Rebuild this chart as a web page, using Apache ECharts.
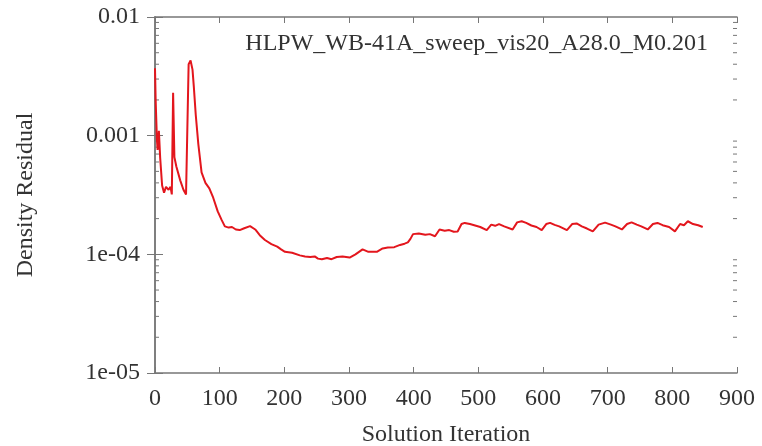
<!DOCTYPE html>
<html>
<head>
<meta charset="utf-8">
<script src="https://cdn.jsdelivr.net/npm/echarts@6/dist/echarts.min.js"></script>
<style>
  html, body { margin: 0; padding: 0; background: #fff; }
  #chart { width: 762px; height: 446px; }
</style>
</head>
<body>
<div id="chart"></div>
<script>
// iterations and density residual
const iterations = [0, 1, 3, 4, 6, 8, 11, 14, 17, 21, 24, 26, 28, 30, 33, 39, 44, 48, 50, 52, 55, 58, 60, 63, 67, 72, 78, 84, 90, 97,
  103, 108, 114, 119, 125, 131, 138, 147, 155, 162, 170, 180, 189, 195, 201, 212, 224, 232, 240, 247, 252, 258, 266, 273, 281, 290,
  301, 310, 321, 330, 343, 352, 360, 370, 379, 386, 391, 395, 399, 408, 418, 425, 433, 440, 448, 455, 462, 468, 474, 479,
  487, 495, 503, 513, 520, 526, 532, 540, 553, 560, 567, 574, 582, 590, 598, 605, 611, 618, 625, 637, 645, 652, 660, 668, 677,
  686, 696, 705, 712, 722, 730, 737, 745, 752, 762, 770, 777, 785, 795, 804, 812, 818, 824, 832, 840, 847];
const residual = [3.7e-3, 2.0e-3, 9.2e-4, 7.6e-4, 1.1e-3, 6.5e-4, 3.8e-4, 3.3e-4, 3.7e-4, 3.5e-4, 3.7e-4, 3.2e-4, 2.3e-3, 6.6e-4, 5.5e-4, 4.2e-4, 3.5e-4, 3.2e-4, 3.3e-4, 4.0e-3, 4.3e-3, 3.6e-3, 2.6e-3, 1.5e-3, 8.5e-4, 4.9e-4, 4.0e-4, 3.6e-4, 3.0e-4, 2.3e-4,
  1.95e-4, 1.72e-4, 1.68e-4, 1.70e-4, 1.62e-4, 1.60e-4, 1.66e-4, 1.73e-4, 1.62e-4, 1.45e-4, 1.32e-4, 1.22e-4, 1.16e-4, 1.10e-4, 1.05e-4, 1.03e-4, 9.8e-5, 9.6e-5, 9.5e-5, 9.6e-5, 9.2e-5, 9.1e-5, 9.3e-5, 9.1e-5, 9.5e-5, 9.6e-5,
  9.4e-5, 1.0e-4, 1.1e-4, 1.05e-4, 1.05e-4, 1.12e-4, 1.14e-4, 1.15e-4, 1.2e-4, 1.23e-4, 1.26e-4, 1.35e-4, 1.48e-4, 1.5e-4, 1.46e-4, 1.48e-4, 1.42e-4, 1.62e-4, 1.58e-4, 1.60e-4, 1.55e-4, 1.56e-4, 1.8e-4, 1.84e-4,
  1.80e-4, 1.75e-4, 1.70e-4, 1.60e-4, 1.78e-4, 1.74e-4, 1.80e-4, 1.72e-4, 1.62e-4, 1.86e-4, 1.90e-4, 1.84e-4, 1.75e-4, 1.70e-4, 1.60e-4, 1.80e-4, 1.84e-4, 1.77e-4, 1.72e-4, 1.60e-4, 1.80e-4, 1.82e-4, 1.72e-4, 1.65e-4, 1.56e-4,
  1.78e-4, 1.85e-4, 1.78e-4, 1.72e-4, 1.62e-4, 1.80e-4, 1.86e-4, 1.78e-4, 1.72e-4, 1.62e-4, 1.80e-4, 1.84e-4, 1.76e-4, 1.70e-4, 1.56e-4, 1.80e-4, 1.76e-4, 1.90e-4, 1.80e-4, 1.76e-4, 1.70e-4];

// tick labels of the log axis
const yTickLabels = { '-2': '0.01', '-3': '0.001', '-4': '1e-04', '-5': '1e-05' };
// minor ticks inside each decade
const minorTicks = [2e-5, 3e-5, 4e-5, 5e-5, 6e-5, 7e-5, 8e-5, 9e-5,
  2e-4, 3e-4, 4e-4, 5e-4, 6e-4, 7e-4, 8e-4, 9e-4,
  2e-3, 3e-3, 4e-3, 5e-3, 6e-3, 7e-3, 8e-3, 9e-3];

const runName = 'HLPW_WB-41A_sweep_vis20_A28.0_M0.201';

const font = 'Liberation Serif';
const textColor = '#333';
const frameColor = '#777';

const chart = echarts.init(document.getElementById('chart'), null, { renderer: 'canvas' });

const option = {
  animation: false,
  backgroundColor: '#fff',
  title: {
    text: runName,
    right: 54,
    top: 32,
    padding: 0,
    textStyle: { fontFamily: font, fontSize: 24, fontWeight: 'normal', color: textColor }
  },
  grid: { left: 155, right: 25, top: 17, bottom: 73, containLabel: false, outerBoundsMode: 'none' },
  xAxis: [
    {
      type: 'value',
      min: 0, max: 900, interval: 100,
      name: 'Solution Iteration',
      nameLocation: 'middle',
      nameGap: 50,
      nameTextStyle: { fontFamily: font, fontSize: 24, color: textColor },
      axisLine: { lineStyle: { color: frameColor, width: 1.5 } },
      axisTick: { inside: true, length: 6, lineStyle: { color: frameColor } },
      axisLabel: { fontFamily: font, fontSize: 24, color: textColor, margin: 14 },
      splitLine: { show: false }
    },
    {
      type: 'value',
      position: 'top',
      min: 0, max: 900, interval: 100,
      axisLine: { lineStyle: { color: frameColor, width: 1.5 } },
      axisTick: { inside: true, length: 6, lineStyle: { color: frameColor } },
      axisLabel: { show: false },
      splitLine: { show: false }
    }
  ],
  yAxis: [
    {
      type: 'log',
      logBase: 10,
      min: 1e-5, max: 1e-2,
      name: 'Density Residual',
      nameLocation: 'middle',
      nameGap: 117,
      nameTextStyle: { fontFamily: font, fontSize: 24, color: textColor },
      axisLine: { show: true, lineStyle: { color: frameColor, width: 1.5 } },
      axisTick: { inside: true, length: 8, lineStyle: { color: frameColor } },
      axisLabel: {
        fontFamily: font, fontSize: 24, color: textColor, margin: 15,
        formatter: v => yTickLabels[String(Math.round(Math.log10(v)))] || ''
      },
      splitLine: { show: false }
    },
    {
      type: 'log',
      logBase: 10,
      min: 1e-5, max: 1e-2,
      position: 'right',
      axisLine: { show: true, lineStyle: { color: frameColor, width: 1.5 } },
      axisTick: { inside: true, length: 8, lineStyle: { color: frameColor } },
      axisLabel: { show: false },
      splitLine: { show: false }
    }
  ],
  series: [
    {
      type: 'line',
      data: iterations.map((it, i) => [it, residual[i]]),
      showSymbol: false,
      lineStyle: { color: '#e3161d', width: 2 },
      z: 3
    },
    {
      // log-spaced minor ticks on left and right frame
      type: 'custom',
      silent: true,
      data: minorTicks.map(v => [0, v]),
      renderItem: (params, api) => {
        const v = api.value(1);
        const l = api.coord([0, v]);
        const r = api.coord([900, v]);
        const style = { stroke: frameColor, lineWidth: 1 };
        return {
          type: 'group',
          children: [
            { type: 'line', shape: { x1: l[0], y1: l[1], x2: l[0] + 4, y2: l[1] }, style },
            { type: 'line', shape: { x1: r[0], y1: r[1], x2: r[0] - 4, y2: r[1] }, style }
          ]
        };
      },
      z: 2
    }
  ]
};

chart.setOption(option);

window.addEventListener('resize', () => {
  chart.resize();
});
</script>
</body>
</html>
